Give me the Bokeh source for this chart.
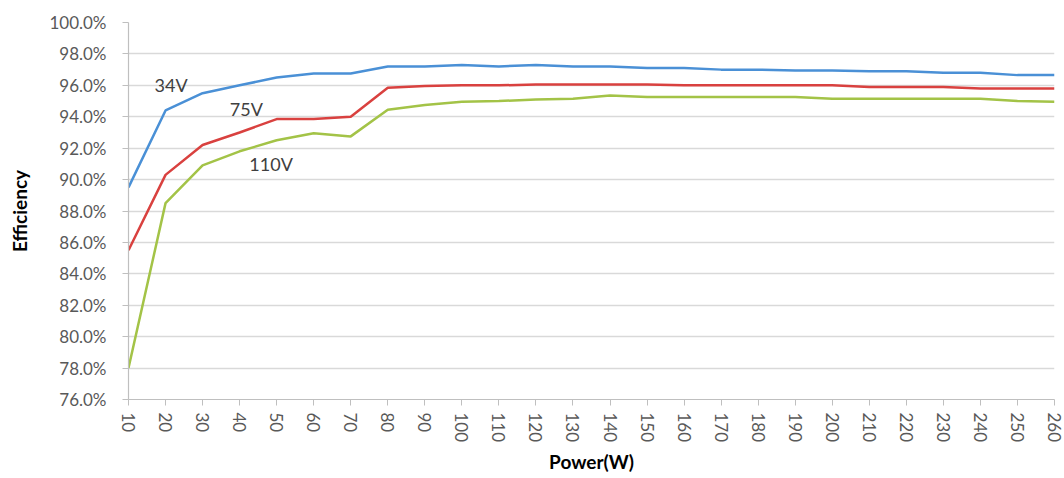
import math
from bokeh.plotting import figure
from bokeh.models import FixedTicker, PrintfTickFormatter, Range1d
from bokeh.core.properties import value
from bokeh.embed import file_html
from bokeh.resources import INLINE

power = [10, 20, 30, 40, 50, 60, 70, 80, 90, 100, 110, 120, 130, 140, 150, 160, 170,
         180, 190, 200, 210, 220, 230, 240, 250, 260]
eff_34v = [89.5, 94.4, 95.5, 96.0, 96.5, 96.75, 96.75, 97.2, 97.2, 97.3, 97.2, 97.3, 97.2,
           97.2, 97.1, 97.1, 97.0, 97.0, 96.95, 96.95, 96.9, 96.9, 96.8, 96.8, 96.65, 96.65]
eff_75v = [85.5, 90.3, 92.2, 93.0, 93.85, 93.85, 94.0, 95.85, 95.95, 96.0, 96.0, 96.05, 96.05,
           96.05, 96.05, 96.0, 96.0, 96.0, 96.0, 96.0, 95.9, 95.9, 95.9, 95.8, 95.8, 95.8]
eff_110v = [78.0, 88.5, 90.9, 91.8, 92.5, 92.95, 92.75, 94.45, 94.75, 94.95, 95.0, 95.1, 95.15,
            95.35, 95.25, 95.25, 95.25, 95.25, 95.25, 95.15, 95.15, 95.15, 95.15, 95.15, 95.0, 94.95]
series_names = ["34V", "75V", "110V"]
series_colors = ["#4a90d6", "#d9413f", "#a3c347"]
y_ticks = [76, 78, 80, 82, 84, 86, 88, 90, 92, 94, 96, 98, 100]

FONT = "Lato"

p = figure(width=1064, height=478, output_backend="svg", toolbar_location=None,
           x_range=Range1d(10, 260), y_range=Range1d(76, 100),
           min_border_left=128, min_border_right=10, min_border_top=22, min_border_bottom=79)
p.outline_line_color = None
p.background_fill_color = "white"
p.border_fill_color = "white"

for ys, c in zip([eff_34v, eff_75v, eff_110v], series_colors):
    p.line(power, ys, line_color=c, line_width=2.5)

# series labels
lab_x = [21.5, 41.8, 48.5]
lab_y = [96.0, 94.5, 91.0]
p.text(x=lab_x, y=lab_y, text=series_names, text_font=value(FONT), text_font_size="18px",
       text_color="#404040", text_align="center", text_baseline="middle")

p.xgrid.grid_line_color = None
p.ygrid.grid_line_color = "#d9d9d9"
p.ygrid.grid_line_width = 1.5

p.xaxis.ticker = FixedTicker(ticks=power)
p.yaxis.ticker = FixedTicker(ticks=y_ticks)
p.yaxis.formatter = PrintfTickFormatter(format="%.1f%%")

for ax in (p.xaxis[0], p.yaxis[0]):
    ax.axis_line_color = "#bfbfbf"
    ax.axis_line_width = 1.2
    ax.major_tick_line_color = "#bfbfbf"
    ax.major_tick_out = 6
    ax.major_tick_in = 0
    ax.minor_tick_line_color = None
    ax.major_label_text_font = FONT
    ax.major_label_text_font_size = "17px"
    ax.major_label_text_color = "#595959"
    ax.axis_label_text_font = FONT
    ax.axis_label_text_font_style = "bold"
    ax.axis_label_text_font_size = "19px"
    ax.axis_label_text_color = "#000000"

p.xaxis.major_label_orientation = -math.pi / 2
p.xaxis.major_label_standoff = 7
p.xaxis.axis_label = "Power(W)"
p.xaxis.axis_label_standoff = 5
p.yaxis.major_label_standoff = 16
p.yaxis.axis_label = "Efficiency"
p.yaxis.axis_label_standoff = 15

open("out.html", "w").write(file_html(p, INLINE))
